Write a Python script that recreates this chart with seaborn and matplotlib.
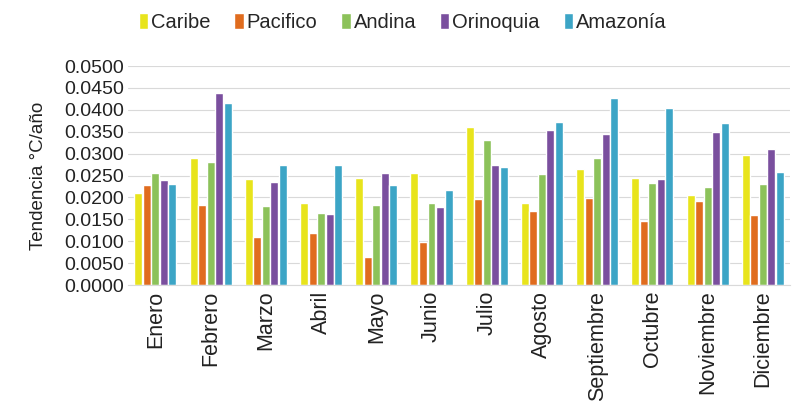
import matplotlib

matplotlib.use("Agg")

import matplotlib.pyplot as plt
import pandas as pd
import seaborn as sns
from matplotlib.ticker import FormatStrFormatter, MultipleLocator


MONTHS = ["Enero", "Febrero", "Marzo", "Abril", "Mayo", "Junio", "Julio",
          "Agosto", "Septiembre", "Octubre", "Noviembre", "Diciembre"]
REGIONS = ["Caribe", "Pacifico", "Andina", "Orinoquia", "Amazonía"]

CARIBE = [0.0210, 0.0290, 0.0242, 0.0187, 0.0244, 0.0256, 0.0360, 0.0187, 0.0265, 0.0244, 0.0205, 0.0297]
PACIFICO = [0.0228, 0.0183, 0.0110, 0.0119, 0.0064, 0.0098, 0.0196, 0.0169, 0.0199, 0.0146, 0.0192, 0.0160]
ANDINA = [0.0255, 0.0281, 0.0180, 0.0164, 0.0183, 0.0187, 0.0331, 0.0253, 0.0290, 0.0233, 0.0224, 0.0231]
ORINOQUIA = [0.0240, 0.0438, 0.0235, 0.0162, 0.0256, 0.0178, 0.0274, 0.0354, 0.0345, 0.0242, 0.0349, 0.0310]
AMAZONIA = [0.0230, 0.0415, 0.0275, 0.0274, 0.0228, 0.0217, 0.0269, 0.0372, 0.0427, 0.0404, 0.0370, 0.0258]

COLORS = ["#E8E41C", "#E06C1E", "#8CC25A", "#7A4F9E", "#3CA5C6"]

series = [CARIBE, PACIFICO, ANDINA, ORINOQUIA, AMAZONIA]
rows = []
for region, values in zip(REGIONS, series):
    for month, value in zip(MONTHS, values):
        rows.append({"mes": month, "region": region, "tendencia": value})
df = pd.DataFrame(rows)

sns.set_style("white")
plt.rcParams["font.family"] = ["Liberation Sans", "DejaVu Sans"]

fig = plt.figure(figsize=(8.09, 4.05), dpi=100)
ax = fig.add_axes([0.158, 0.296, 0.819, 0.541])

sns.barplot(data=df, x="mes", y="tendencia", hue="region", order=MONTHS,
            hue_order=REGIONS, palette=COLORS, width=0.77, gap=0.06,
            saturation=1, ax=ax)

ax.set_ylim(0, 0.05)
ax.yaxis.set_major_locator(MultipleLocator(0.005))
ax.yaxis.set_major_formatter(FormatStrFormatter("%.4f"))
ax.grid(axis="y", color="#d9d9d9", linewidth=0.8)
ax.set_axisbelow(True)
for side in ["top", "right", "left"]:
    ax.spines[side].set_visible(False)
ax.spines["bottom"].set_color("#d9d9d9")
ax.tick_params(axis="y", length=0, labelsize=14, colors="#222222", pad=3)
ax.tick_params(axis="x", length=0, labelsize=15.5, colors="#222222", pad=4)
ax.set_xticks(range(len(MONTHS)))
ax.set_xticklabels(MONTHS, rotation=90)
ax.set_xlabel("")
ax.set_ylabel("Tendencia °C/año", fontsize=13.5, color="#222222", labelpad=12)
ax.set_xlim(-0.5, len(MONTHS) - 0.5)

handles, labels = ax.get_legend_handles_labels()
ax.legend(handles, labels, loc="center", bbox_to_anchor=(0.415, 1.20), ncol=5,
          frameon=False, fontsize=14.5, handlelength=0.45, handleheight=0.9,
          handletextpad=0.15, columnspacing=1.2)

fig.savefig("out.png", dpi=100)
